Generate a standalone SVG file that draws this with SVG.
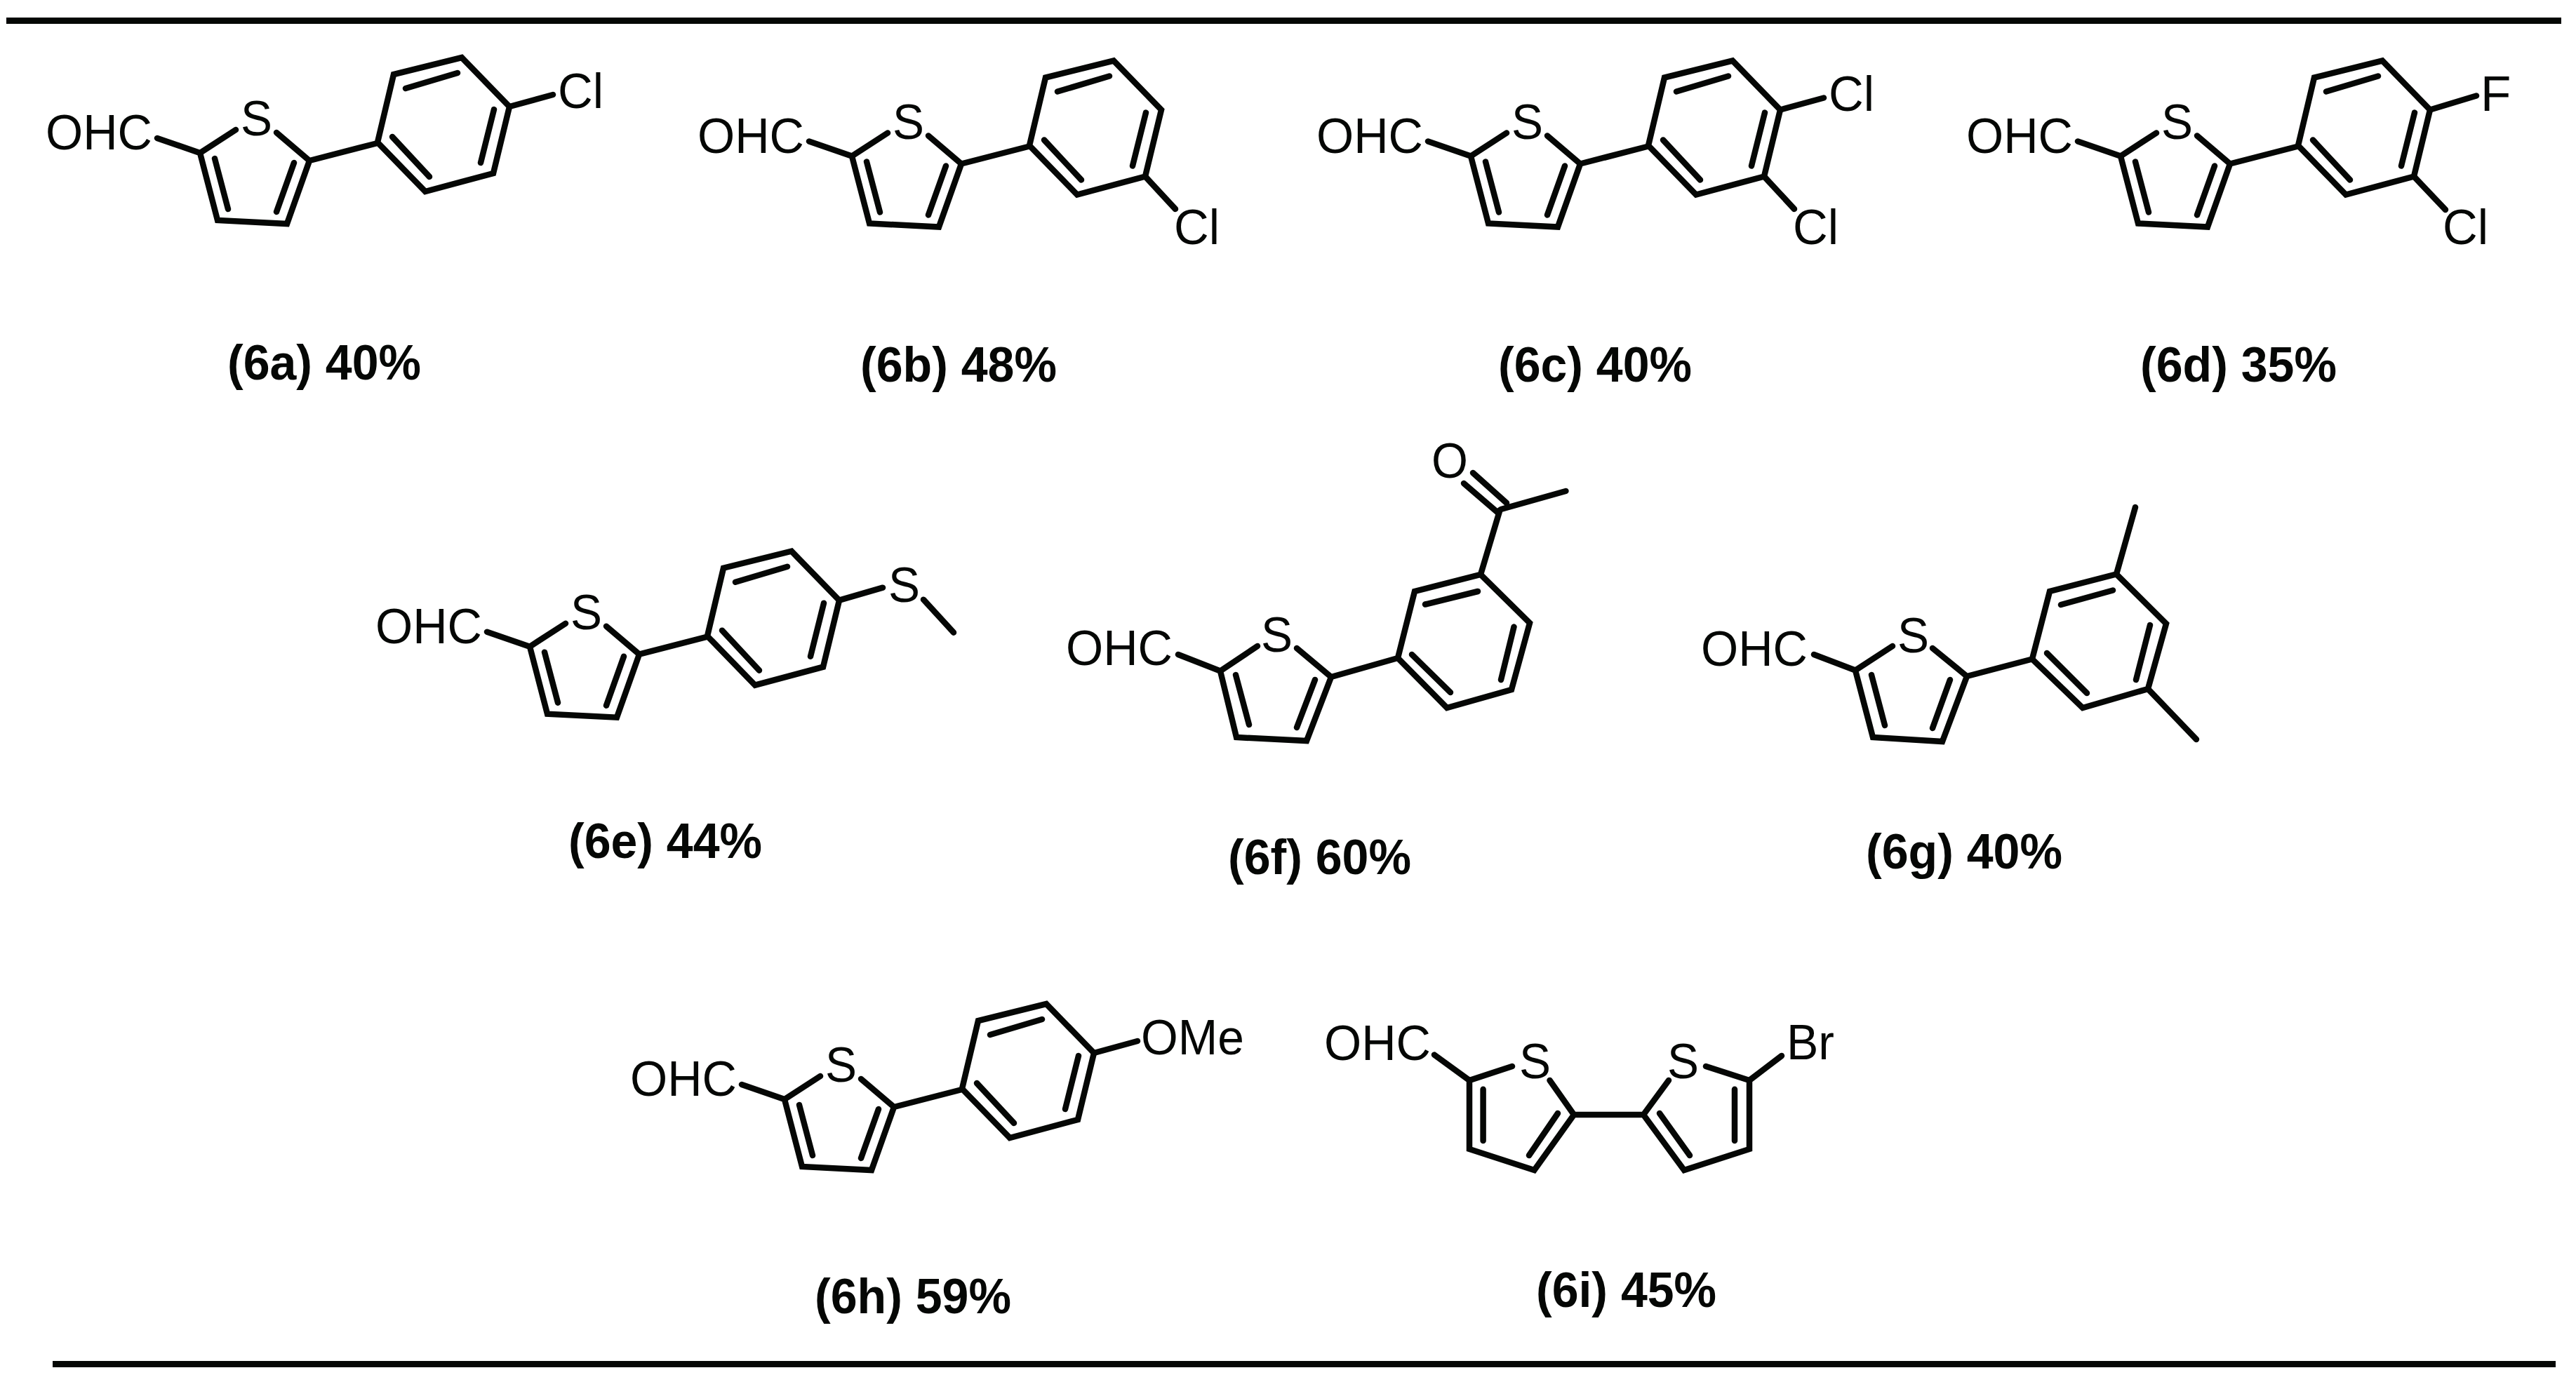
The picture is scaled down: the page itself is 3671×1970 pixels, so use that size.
<svg xmlns="http://www.w3.org/2000/svg" xmlns:xlink="http://www.w3.org/1999/xlink" width="3671" height="1970" viewBox="0 0 3671 1970">
<style>
.b{fill:none;stroke:#050705;stroke-width:8.5;stroke-linecap:round;stroke-linejoin:miter}
.a{font-family:"Liberation Sans",Arial,sans-serif;font-size:71px;fill:#050705}
.c{font-family:"Liberation Sans",Arial,sans-serif;font-size:70px;font-weight:700;fill:#050705}
.r{fill:#050705}
</style>
<defs>
<path id="core" class="b" d="M224,197 L285,218 L336,185 M394,189 L441,229 L409,319 L310,314 L285,218 M306,226 L325,298 M419,232 L394,302 M441,229 L538,204 M538,203 L561,106 L658,82 L726,152 L703,247 L606,273 Z M578,126 L652,104 M704,156 L685,232 M612,252 L559,195"/>
</defs>
<rect class="r" x="9" y="25" width="3641" height="9"/>
<rect class="r" x="75" y="1940" width="3567" height="9"/>

<g id="m6a" transform="translate(0,0)">
<use href="#core" xlink:href="#core"/>
<path class="b" d="M726,152 L788,135"/>
<text class="a" x="65" y="213" textLength="152" lengthAdjust="spacingAndGlyphs">OHC</text><text class="a" x="343" y="193" textLength="45" lengthAdjust="spacingAndGlyphs">S</text><text class="a" x="795" y="154" textLength="65" lengthAdjust="spacingAndGlyphs">Cl</text>
</g>
<text class="c" x="324" y="541" textLength="276" lengthAdjust="spacingAndGlyphs">(6a) 40%</text>

<g id="m6b" transform="translate(929,4.5)">
<use href="#core" xlink:href="#core"/>
<path class="b" d="M703,247 L746,293.5"/>
<text class="a" x="65" y="213" textLength="152" lengthAdjust="spacingAndGlyphs">OHC</text><text class="a" x="343" y="193" textLength="45" lengthAdjust="spacingAndGlyphs">S</text><text class="a" x="744" y="343" textLength="65" lengthAdjust="spacingAndGlyphs">Cl</text>
</g>
<text class="c" x="1226" y="544" textLength="280" lengthAdjust="spacingAndGlyphs">(6b) 48%</text>

<g id="m6c" transform="translate(1811,4.5)">
<use href="#core" xlink:href="#core"/>
<path class="b" d="M726,152 L788,135 M703,247 L746,293.5"/>
<text class="a" x="65" y="213" textLength="152" lengthAdjust="spacingAndGlyphs">OHC</text><text class="a" x="343" y="193" textLength="45" lengthAdjust="spacingAndGlyphs">S</text><text class="a" x="795" y="153" textLength="65" lengthAdjust="spacingAndGlyphs">Cl</text><text class="a" x="744" y="343" textLength="65" lengthAdjust="spacingAndGlyphs">Cl</text>
</g>
<text class="c" x="2135" y="544" textLength="276" lengthAdjust="spacingAndGlyphs">(6c) 40%</text>

<g id="m6d" transform="translate(2737,4.5)">
<use href="#core" xlink:href="#core"/>
<path class="b" d="M726,152 L792,132 M703,247 L748,294.5"/>
<text class="a" x="65" y="213" textLength="152" lengthAdjust="spacingAndGlyphs">OHC</text><text class="a" x="343" y="193" textLength="45" lengthAdjust="spacingAndGlyphs">S</text><text class="a" x="798" y="153">F</text><text class="a" x="744" y="343" textLength="65" lengthAdjust="spacingAndGlyphs">Cl</text>
</g>
<text class="c" x="3050" y="544" textLength="280" lengthAdjust="spacingAndGlyphs">(6d) 35%</text>

<g id="m6e" transform="translate(470,703.7)">
<use href="#core" xlink:href="#core"/>
<path class="b" d="M726,152 L788,134 M846,151 L889,198"/>
<text class="a" x="65" y="213" textLength="152" lengthAdjust="spacingAndGlyphs">OHC</text><text class="a" x="343" y="193" textLength="45" lengthAdjust="spacingAndGlyphs">S</text><text class="a" x="796" y="154" textLength="45" lengthAdjust="spacingAndGlyphs">S</text>
</g>
<text class="c" x="810" y="1223" textLength="276" lengthAdjust="spacingAndGlyphs">(6e) 44%</text>

<g id="m6f">
<path class="b" d="M1679,933 L1739,956.5 L1792,921 M1848,924 L1897,965 L1862,1056 L1762,1051 L1739,956.5 M1761,962 L1780,1033 M1874,969 L1848,1037 M1897,965 L1992,938 M1992,938 L2016,843 L2110,819 L2180,888 L2154,983 L2062,1009 Z M2031,861.5 L2106,843 M2157.5,893.6 L2139,969 M2067,987 L2012,933 M2110,819 L2137.5,727 M2086,689 L2136,732 M2099,674 L2147,717 M2139,726 L2231.4,700"/>
<text class="a" x="1519" y="948" textLength="152" lengthAdjust="spacingAndGlyphs">OHC</text><text class="a" x="1797" y="929" textLength="45" lengthAdjust="spacingAndGlyphs">S</text><text class="a" x="2040" y="681" textLength="52" lengthAdjust="spacingAndGlyphs">O</text>
</g>
<text class="c" x="1750" y="1246" textLength="261" lengthAdjust="spacingAndGlyphs">(6f) 60%</text>

<g id="m6g">
<path class="b" d="M2585,933 L2644,955.5 L2697,921 M2754,924 L2803,964 L2768,1057 L2669,1051 L2644,955.5 M2667,962 L2686,1034 M2779,969 L2754,1038 M2803,964 L2896,939.5 M2896,939.5 L2921,843 L3016,818.5 L3087,889 L3061,982 L2968,1009 Z M2937,862 L3011,841.5 M3064,891 L3044,969 M2974,988 L2917,931 M3016,818.5 L3043,723 M3061,982 L3130,1054"/>
<text class="a" x="2424" y="949" textLength="152" lengthAdjust="spacingAndGlyphs">OHC</text><text class="a" x="2704" y="930" textLength="45" lengthAdjust="spacingAndGlyphs">S</text>
</g>
<text class="c" x="2659" y="1238" textLength="280" lengthAdjust="spacingAndGlyphs">(6g) 40%</text>

<g id="m6h" transform="translate(833,1349)">
<use href="#core" xlink:href="#core"/>
<path class="b" d="M726,152 L788,135"/>
<text class="a" x="65" y="213" textLength="152" lengthAdjust="spacingAndGlyphs">OHC</text><text class="a" x="343" y="193" textLength="45" lengthAdjust="spacingAndGlyphs">S</text><text class="a" x="793" y="154" textLength="147" lengthAdjust="spacingAndGlyphs">OMe</text>
</g>
<text class="c" x="1161" y="1872" textLength="280" lengthAdjust="spacingAndGlyphs">(6h) 59%</text>

<g id="m6i">
<path class="b" d="M2044,1503.6 L2094,1540 L2155,1520 M2208.5,1540 L2243,1589 L2186.5,1668 L2094,1638 L2094,1540 M2113.6,1552.7 L2113.6,1626 M2220,1587 L2179,1647 M2243,1589 L2342,1589 L2400,1668 L2493,1638 L2493,1540 L2431,1520 M2342,1589 L2378,1540 M2365,1587 L2408,1647 M2472,1552.7 L2472,1626 M2493,1540 L2539,1505"/>
<text class="a" x="1887" y="1511" textLength="152" lengthAdjust="spacingAndGlyphs">OHC</text><text class="a" x="2165" y="1537" textLength="45" lengthAdjust="spacingAndGlyphs">S</text><text class="a" x="2376" y="1537" textLength="45" lengthAdjust="spacingAndGlyphs">S</text><text class="a" x="2546" y="1510" textLength="68" lengthAdjust="spacingAndGlyphs">Br</text>
</g>
<text class="c" x="2189" y="1863" textLength="257" lengthAdjust="spacingAndGlyphs">(6i) 45%</text>
</svg>
